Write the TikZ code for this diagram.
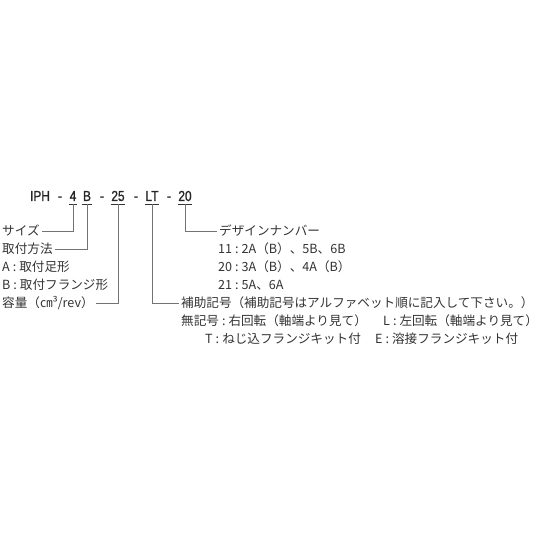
\documentclass[tikz,border=0pt]{standalone}
\usepackage{fontspec}
\newfontfamily\jp{Noto Sans CJK JP}
\newfontfamily\codefont[FakeStretch=0.82,FakeBold=1.2]{Liberation Sans}
\newcommand{\cl}{\hspace{3pt}:\hspace{3pt}}
\begin{document}
\begin{tikzpicture}[x=1pt,y=1pt,
  tok/.style={font=\codefont\fontsize{14.5}{14.5}\selectfont, inner sep=0pt, text height=10pt, text depth=3pt, anchor=base, text=black!85},
  lbl/.style={font=\jp\fontsize{12.6}{14}\selectfont, inner xsep=2pt, inner ysep=0pt, text height=10pt, text depth=0pt, text=black!80, anchor=west},
  conn/.style={draw=black!55, line width=0.7pt},
  uline/.style={draw=black!80, line width=0.7pt}]
\useasboundingbox (0,0) rectangle (540,540);
% code line
\node[tok] (tIPH) at (40,339) {IPH};
\node[tok] (d1) at (60,339) {-};
\node[tok] (t4) at (73,339) {4};
\node[tok] (tB) at (87,339) {B};
\node[tok] (d2) at (102,339) {-};
\node[tok] (t25) at (118,339) {25};
\node[tok] (d3) at (136,339) {-};
\node[tok] (tLT) at (152,339) {LT};
\node[tok] (d4) at (169,339) {-};
\node[tok] (t20) at (185,339) {20};
\foreach \t in {t4,tB,t25,tLT,t20}
  \draw[uline] ([xshift=-0.5pt]\t.south west) -- ([xshift=0.5pt]\t.south east);
% left labels
\node[lbl] (size) at (0,309) {サイズ};
\node[lbl] (mount) at (0,291) {取付方法};
\node[lbl] (mA) at (0,273) {A\cl 取付足形};
\node[lbl] (mB) at (0,255) {B\cl 取付フランジ形};
\node[lbl] (cap) at (0,237) {容量（㎝³/rev）};
% right labels
\node[lbl] (design) at (217,309) {デザインナンバー};
\node[lbl] (d11) at (216,291) {11\cl 2A（B）、5B、6B};
\node[lbl] (d20) at (216,273) {20\cl 3A（B）、4A（B）};
\node[lbl] (d21) at (216,255) {21\cl 5A、6A};
\node[lbl] (aux) at (179,237) {補助記号（補助記号はアルファベット順に記入して下さい。）};
\node[lbl] (auxN) at (179,219) {無記号\cl 右回転（軸端より見て）};
\node[lbl] (auxL) at (381,219) {L\cl 左回転（軸端より見て）};
\node[lbl] (auxT) at (203,201) {T\cl ねじ込フランジキット付};
\node[lbl] (auxE) at (373,201) {E\cl 溶接フランジキット付};
% connectors
\draw[conn] (t4.south) |- (size.east);
\draw[conn] (tB.south) |- (mount.east);
\draw[conn] (t25.south) |- (cap.east);
\draw[conn] (tLT.south) |- (aux.west);
\draw[conn] (t20.south) |- (design.west);
\end{tikzpicture}
\end{document}
